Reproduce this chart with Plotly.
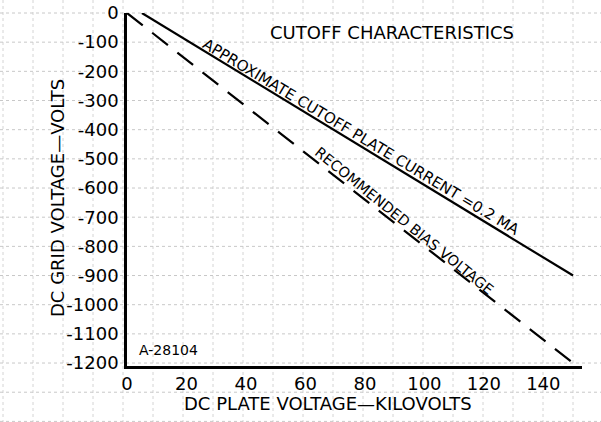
import plotly.graph_objects as go

# Data
cutoff_kv = [5, 150]
cutoff_v = [0, -900]
bias_kv = [0, 150]
bias_v = [0, -1200]

x_ticks = [0, 20, 40, 60, 80, 100, 120, 140]
y_ticks = [0, -100, -200, -300, -400, -500, -600, -700, -800, -900, -1000, -1100, -1200]
y_ticktext = ["0", "-100", "-200", "-300", "-400", "-500", "-600", "-700", "-800",
              "-900", "-1000", "-1100", "-1200"]

FONT = "DejaVu Sans"

fig = go.Figure()
fig.add_trace(go.Scatter(x=cutoff_kv, y=cutoff_v, mode="lines",
                         line=dict(color="black", width=2.2), showlegend=False))
fig.add_trace(go.Scatter(x=bias_kv, y=bias_v, mode="lines",
                         line=dict(color="black", width=2.2, dash="20px,12px"), showlegend=False))

# page body margin is removed by post_script, so screen px == figure px
W, H = 601, 422
L, R, T, B = 127, W - 582, 13, H - 366
pw, ph = W - L - R, H - T - B
def sx(px):  # screen px -> paper x
    return (px - L) / pw
def sy(py):  # screen py -> paper y
    return 1 - (py - T) / ph

# graph paper background (decorative)
shapes = []
for k in range(0, 21):
    px = 3 + 30 * k
    shapes.append(dict(type="line", xref="paper", yref="paper",
                       x0=sx(px), x1=sx(px), y0=sy(0), y1=sy(H),
                       line=dict(color="#d4d4d4", width=1, dash="dot"), layer="below"))
for k in range(0, 15):
    py = 13 + 29.17 * k
    shapes.append(dict(type="line", xref="paper", yref="paper",
                       x0=sx(0), x1=sx(W), y0=sy(py), y1=sy(py),
                       line=dict(color="#c8c8c8", width=1, dash="dot"), layer="below"))

fig.update_layout(
    width=W, height=H,
    margin=dict(l=L, r=R, t=T, b=B),
    paper_bgcolor="white", plot_bgcolor="rgba(0,0,0,0)",
    shapes=shapes,
    font=dict(family=FONT, color="black"),
    xaxis=dict(range=[0, 153], tickvals=x_ticks, ticktext=[str(v) for v in x_ticks],
               showgrid=False, zeroline=False, showline=True, linecolor="black", linewidth=2.5,
               ticks="", tickfont=dict(size=18, family=FONT), ticklabelstandoff=0,
               automargin=False),
    yaxis=dict(range=[-1210, 0], tickvals=y_ticks, ticktext=y_ticktext,
               showgrid=False, zeroline=False, showline=True, linecolor="black", linewidth=2.5,
               ticks="", tickfont=dict(size=18, family=FONT), ticklabelstandoff=2,
               automargin=False),
    annotations=[
        dict(x=sx(328), y=sy(403), xref="paper", yref="paper", xanchor="center", yanchor="middle",
             text="DC PLATE VOLTAGE\u2014KILOVOLTS",
             showarrow=False, font=dict(size=18, family=FONT)),
        dict(x=sx(57), y=sy(198), xref="paper", yref="paper", xanchor="center", yanchor="middle",
             text="DC GRID VOLTAGE\u2014VOLTS",
             showarrow=False, textangle=-90, font=dict(size=18, family=FONT)),
        dict(x=89.1, y=-68, xref="x", yref="y", xanchor="center", yanchor="middle",
             text="CUTOFF CHARACTERISTICS", showarrow=False,
             font=dict(size=18, family=FONT)),
        dict(x=78.7, y=-425, xref="x", yref="y", xanchor="center", yanchor="middle",
             text="APPROXIMATE CUTOFF PLATE CURRENT =0.2 MA",
             showarrow=False, textangle=31, font=dict(size=15, family=FONT)),
        dict(x=93.3, y=-712, xref="x", yref="y", xanchor="center", yanchor="middle",
             text="RECOMMENDED BIAS VOLTAGE",
             showarrow=False, textangle=39, font=dict(size=14.5, family=FONT)),
        dict(x=13.8, y=-1155, xref="x", yref="y", xanchor="center", yanchor="middle",
             text="A-28104", showarrow=False,
             font=dict(size=14, family=FONT)),
    ],
)

fig.write_html("out.html", config={"displayModeBar": False},
               post_script="document.body.style.margin='0';")
